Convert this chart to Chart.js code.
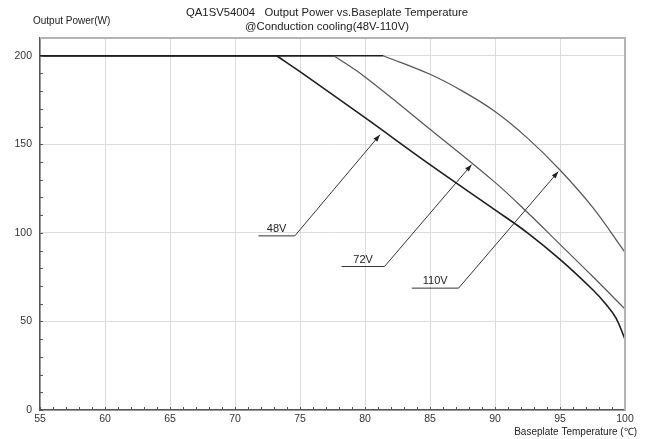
<!DOCTYPE html>
<html>
<head>
<meta charset="utf-8">
<script src="https://cdn.jsdelivr.net/npm/chart.js@4"></script>
<style>
  body { margin: 0; background: #fff; }
</style>
</head>
<body>
<canvas id="grafica" width="648" height="439"></canvas>
<script>
// curvas de derating (temperatura de base vs potencia)
const temps48 = [55, 73.2, 75, 80, 85, 90, 92.5, 95, 97.5, 98.5, 99.3, 100];
const power48 = [200, 200, 191, 165, 138.5, 113, 100, 85, 68, 60, 52, 40];
const temps72 = [55, 77.6, 80, 85, 90, 92.5, 95, 97.5, 100];
const power72 = [200, 200, 188, 158.5, 128.5, 111.5, 93.5, 75.5, 57];
const temps110 = [55, 81.4, 85, 87.5, 90, 92.5, 95, 97.5, 100];
const power110 = [200, 200, 189.5, 180, 168.5, 153.5, 135.5, 114.5, 89];

// etiquetas con flecha
const arrowLabels = ['48V', '72V', '110V'];
const labelX1 = [71.8, 78.2, 83.6];
const labelX2 = [74.6, 81.5, 87.2];
const labelY = [98.3, 81, 68.8];
const tipX = [81.15, 88.2, 94.87];
const tipY = [155.4, 138.5, 134.6];

const xTicks = [55, 60, 65, 70, 75, 80, 85, 90, 95, 100];
const yTicks = [0, 50, 100, 150, 200];

const fontFamily = "'Liberation Sans', Arial, sans-serif";

function toPoints(xs, ys) {
    return xs.map((x, i) => ({ x: x, y: ys[i] }));
}

const series = [
    { label: '48V', xs: temps48, ys: power48, color: '#1e1e1e', width: 1.6 },
    { label: '72V', xs: temps72, ys: power72, color: '#555', width: 1.2 },
    { label: '110V', xs: temps110, ys: power110, color: '#555', width: 1.2 }
];

// tramo plano + tramo curvo por separado (esquina viva en el codo)
const curveDatasets = [];
series.forEach(s => {
    const pts = toPoints(s.xs, s.ys);
    curveDatasets.push({ label: s.label + ' plano', data: pts.slice(0, 2), borderColor: '#1e1e1e', borderWidth: 1.6, pointRadius: 0, tension: 0 });
    curveDatasets.push({ label: s.label, data: pts.slice(1), borderColor: s.color, borderWidth: s.width, pointRadius: 0, tension: 0.4 });
});

const arrowDatasets = arrowLabels.map((lab, i) => ({
    label: 'flecha ' + lab,
    data: [
        { x: labelX1[i], y: labelY[i] },
        { x: labelX2[i], y: labelY[i] },
        { x: tipX[i], y: tipY[i] }
    ],
    borderColor: '#333',
    borderWidth: 1,
    pointRadius: 0,
    tension: 0
}));

const extras = {
    id: 'extras',
    afterDraw(chart) {
        const ctx = chart.ctx;
        const xs = chart.scales.x;
        const ys = chart.scales.y;
        const area = chart.chartArea;
        ctx.save();

        // ticks menores
        ctx.strokeStyle = '#555';
        ctx.lineWidth = 1;
        ctx.beginPath();
        for (let t = 55; t <= 100; t++) {
            const px = Math.round(xs.getPixelForValue(t)) + 0.5;
            ctx.moveTo(px, area.bottom);
            ctx.lineTo(px, area.bottom - 3);
        }
        for (let v = 0; v <= 200; v += 10) {
            const py = Math.round(ys.getPixelForValue(v)) + 0.5;
            ctx.moveTo(area.left, py);
            ctx.lineTo(area.left + 3, py);
        }
        ctx.stroke();

        // borde derecho y superior
        ctx.strokeStyle = '#b4b4b4';
        ctx.lineWidth = 2;
        ctx.beginPath();
        ctx.moveTo(area.left, area.top);
        ctx.lineTo(area.right, area.top);
        ctx.lineTo(area.right, area.bottom);
        ctx.stroke();

        // puntas de flecha y textos
        ctx.fillStyle = '#222';
        ctx.font = '11px ' + fontFamily;
        ctx.textAlign = 'center';
        ctx.textBaseline = 'alphabetic';
        arrowLabels.forEach((lab, i) => {
            const x2 = xs.getPixelForValue(labelX2[i]);
            const y2 = ys.getPixelForValue(labelY[i]);
            const tx = xs.getPixelForValue(tipX[i]);
            const ty = ys.getPixelForValue(tipY[i]);
            const ang = Math.atan2(ty - y2, tx - x2);
            ctx.beginPath();
            ctx.moveTo(tx, ty);
            ctx.lineTo(tx - 7 * Math.cos(ang) + 2.5 * Math.sin(ang), ty - 7 * Math.sin(ang) - 2.5 * Math.cos(ang));
            ctx.lineTo(tx - 7 * Math.cos(ang) - 2.5 * Math.sin(ang), ty - 7 * Math.sin(ang) + 2.5 * Math.cos(ang));
            ctx.closePath();
            ctx.fill();
            const cx = (xs.getPixelForValue(labelX1[i]) + x2) / 2;
            ctx.fillText(lab, cx, y2 - 4);
        });

        // titulos
        ctx.fillStyle = '#222';
        ctx.font = '11.3px ' + fontFamily;
        ctx.textAlign = 'center';
        ctx.textBaseline = 'middle';
        ctx.fillText('QA1SV54004   Output Power vs.Baseplate Temperature', 327, 13);
        ctx.fillText('@Conduction cooling(48V-110V)', 327, 27);

        ctx.font = '10px ' + fontFamily;
        ctx.textAlign = 'left';
        ctx.fillText('Output Power(W)', 33, 21);

        ctx.textAlign = 'right';
        ctx.fillText('Baseplate Temperature (\u2103)', 637, 432);
        ctx.restore();
    }
};

new Chart(document.getElementById('grafica'), {
    type: 'line',
    data: { datasets: arrowDatasets.concat(curveDatasets) },
    options: {
        responsive: false,
        animation: false,
        layout: { padding: { top: 38, right: 23, left: 0, bottom: 0 } },
        plugins: { legend: { display: false }, tooltip: { enabled: false }, title: { display: false } },
        scales: {
            x: {
                type: 'linear',
                min: 55,
                max: 100,
                afterFit: s => { s.height = 29; },
                afterBuildTicks: s => { s.ticks = xTicks.map(v => ({ value: v })); },
                ticks: { stepSize: 5, maxRotation: 0, padding: 3, color: '#333', font: { size: 10.5, family: fontFamily } },
                grid: { color: '#dcdcdc', drawTicks: false },
                border: { color: '#555', width: 1.5 }
            },
            y: {
                min: 0,
                max: 210,
                afterFit: s => { s.width = 40; },
                afterBuildTicks: s => { s.ticks = yTicks.map(v => ({ value: v })); },
                ticks: { stepSize: 50, padding: 8, color: '#333', font: { size: 10.5, family: fontFamily } },
                grid: { color: '#dcdcdc', drawTicks: false },
                border: { color: '#555', width: 1.5 }
            }
        }
    },
    plugins: [extras]
});
</script>
</body>
</html>
